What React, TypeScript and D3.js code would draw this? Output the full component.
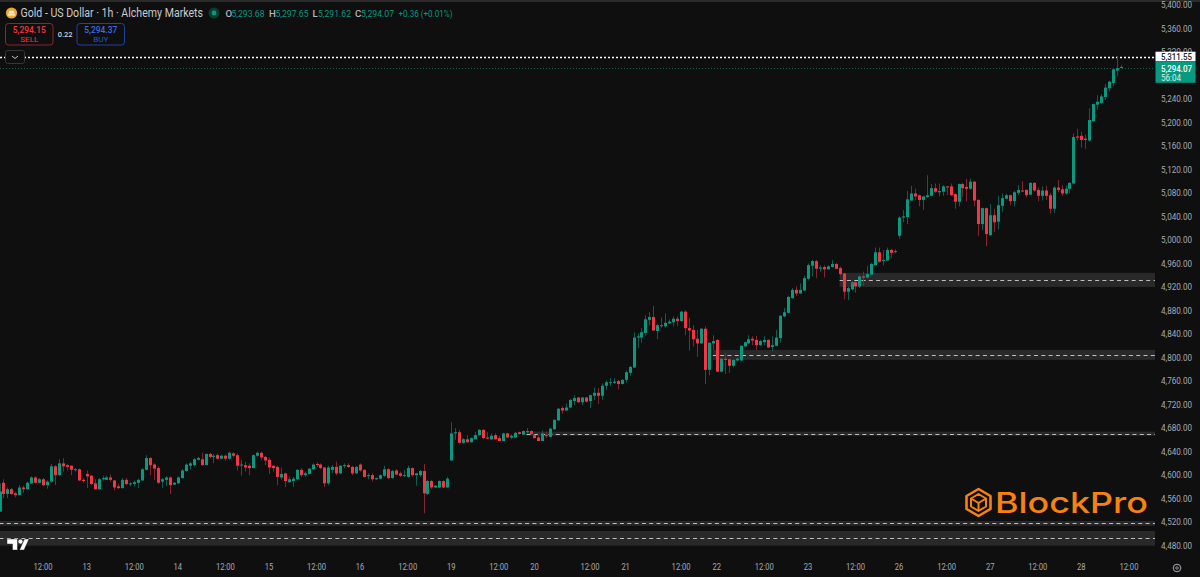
import React from "react";
import * as d3 from "d3";

const opens = [
4538,4587,4568,4576,4569,4566,4579,4576,4586,4596,4587,4593,4583,4589,4615,4600,4620,4617,4616,4609,
4610,4592,4602,4599,4586,4576,4593,4592,4596,4591,4581,4578,4592,4585,4585,4587,4591,4609,4629,4618,
4612,4589,4592,4596,4584,4586,4595,4607,4616,4617,4626,4627,4617,4636,4631,4634,4628,4633,4628,4637,4634,
4617,4617,4616,4612,4633,4638,4631,4626,4616,4614,4596,4603,4588,4590,4593,4609,4600,4602,4610,4619,
4618,4613,4586,4609,4614,4603,4616,4617,4614,4603,4618,4609,4599,4600,4593,4594,4599,4610,4595,4608,
4603,4599,4597,4612,4600,4600,4607,4568,4590,4579,4579,4590,4579,
4625,4671,4673,4655,4661,4656,4661,4668,4677,4664,4661,4668,4663,4658,4671,4664,4664,4673,4669,4673,
4675,4668,4664,4658,4668,4665,4678,4693,4714,4710,4715,4726,4732,4724,4732,4726,4735,4740,4735,4752,
4757,4757,4760,4755,4762,4774,4783,4834,4834,4842,4864,4869,4845,4855,4853,4858,4860,4866,
4862,4878,4850,4847,4832,4824,4849,4779,4824,4830,4776,4798,4797,4786,4795,4795,4819,4824,4832,4830,
4821,4826,4830,4818,4820,4833,4870,4876,
4901,4915,4909,4914,4934,4956,4964,4951,4954,4950,4954,4959,4952,4943,4912,4916,4928,4921,4938,4936,
4941,4957,4979,4965,4965,4983,4980,5007,5038,5039,5067,5079,5076,5068,5073,5075,5088,5081,5082,5091,
5091,5078,5065,5095,5090,5087,5099,5068,5027,5054,
5008,5042,5031,5058,5070,5076,5066,5080,5084,5085,5077,5097,5085,5075,5084,5076,5053,5089,5086,5079,
5087,5096,5176,5177,5172,5169,5202,5230,5233,5243,5258,5267,5288,5293.68];

const highs = [
4586,4593,4579,4578,4571,4583,4582,4589,4598,4598,4595,4595,4591,4619,4617,4627,4629,4619,4617,4612,
4611,4595,4608,4600,4593,4595,4599,4599,4601,4592,4585,4595,4595,4588,4591,4594,4612,4634,4631,4620,
4615,4595,4598,4598,4588,4598,4610,4620,4623,4629,4631,4638,4637,4638,4636,4637,4635,4635,4640,4639,4637,
4626,4623,4620,4635,4640,4640,4633,4630,4617,4616,4613,4604,4597,4597,4610,4612,4606,4612,4620,4622,
4620,4614,4616,4617,4623,4617,4620,4620,4616,4616,4620,4610,4603,4603,4596,4601,4616,4612,4609,4610,
4606,4609,4616,4613,4604,4609,4619,4592,4592,4583,4591,4591,4597,
4690,4680,4677,4663,4668,4664,4673,4678,4678,4673,4671,4671,4667,4672,4672,4669,4673,4674,4676,4680,
4676,4669,4668,4676,4674,4680,4695,4714,4717,4722,4729,4736,4733,4733,4733,4737,4749,4748,4756,4761,
4765,4765,4762,4763,4778,4786,4843,4841,4850,4872,4877,4888,4857,4868,4875,4865,4870,4870,
4879,4880,4867,4855,4847,4850,4853,4826,4838,4831,4799,4808,4799,4797,4800,4821,4827,4838,4836,4837,
4830,4836,4831,4836,4847,4872,4884,4905,
4918,4921,4926,4939,4960,4966,4966,4957,4957,4957,4966,4961,4955,4944,4921,4930,4930,4940,4946,4956,
4961,4987,4987,4983,4987,4985,4984,5040,5051,5083,5092,5087,5077,5075,5110,5095,5096,5096,5093,5092,
5096,5079,5096,5097,5104,5104,5100,5069,5055,5055,
5061,5053,5075,5079,5078,5077,5083,5093,5100,5086,5098,5098,5089,5091,5092,5080,5091,5102,5093,5093,
5098,5181,5189,5184,5179,5224,5232,5246,5248,5265,5271,5292,5311.55,5297.65];

const lows = [
4538,4561,4561,4566,4562,4566,4570,4575,4585,4586,4586,4581,4577,4587,4583,4599,4606,4608,4600,4606,
4590,4587,4578,4583,4575,4575,4591,4592,4589,4574,4576,4577,4583,4581,4581,4578,4590,4608,4600,4592,
4585,4578,4581,4568,4583,4585,4594,4606,4609,4615,4625,4616,4617,4629,4620,4626,4627,4624,4626,4630,4608,
4599,4606,4600,4612,4631,4625,4617,4602,4606,4583,4592,4580,4586,4580,4592,4597,4597,4601,4609,4614,
4610,4580,4583,4603,4600,4602,4612,4612,4600,4602,4606,4596,4593,4589,4592,4593,4597,4593,4594,4600,
4597,4597,4596,4597,4582,4597,4535,4566,4576,4578,4578,4578,4578,
4624,4660,4654,4653,4655,4655,4661,4667,4661,4661,4660,4660,4658,4658,4663,4661,4663,4669,4668,4671,
4669,4662,4658,4658,4663,4664,4677,4693,4704,4709,4714,4719,4723,4719,4724,4714,4728,4721,4728,4745,
4752,4755,4746,4754,4757,4769,4782,4816,4825,4837,4855,4845,4831,4850,4851,4857,4853,4854,
4861,4838,4812,4819,4801,4823,4755,4770,4813,4775,4775,4772,4774,4783,4794,4794,4817,4823,4821,4813,
4820,4821,4816,4810,4819,4825,4868,4875,
4900,4905,4908,4913,4931,4938,4935,4946,4936,4949,4953,4950,4939,4899,4898,4914,4910,4918,4922,4935,
4940,4956,4961,4957,4964,4969,4977,5002,5030,5027,5066,5068,5057,5051,5071,5074,5080,5074,5075,5076,
5075,5053,5057,5073,5065,5085,5057,5007,5017,4989,
5007,5013,5018,5048,5069,5059,5057,5076,5081,5072,5076,5082,5066,5067,5068,5045,5046,5081,5075,5077,
5079,5095,5169,5157,5155,5167,5201,5221,5231,5238,5252,5261,5279,5291.62];

const closes = [
4572,4568,4576,4568,4566,4579,4576,4587,4596,4587,4593,4583,4589,4615,4600,4620,4615,4614,4609,4610,
4591,4590,4598,4585,4576,4593,4595,4596,4592,4579,4578,4592,4585,4586,4588,4592,4610,4629,4617,4611,
4587,4593,4596,4583,4587,4596,4608,4618,4620,4627,4629,4617,4636,4631,4633,4628,4633,4628,4638,4633,4616,
4618,4613,4612,4634,4638,4630,4625,4613,4612,4597,4602,4590,4593,4594,4609,4600,4603,4611,4618,4617,
4612,4586,4613,4614,4603,4616,4617,4614,4603,4614,4608,4597,4600,4593,4595,4600,4610,4595,4607,4601,
4599,4600,4612,4600,4603,4607,4569,4590,4579,4582,4590,4579,4594,
4671,4673,4655,4661,4656,4663,4668,4677,4663,4662,4667,4661,4658,4671,4664,4667,4672,4670,4675,4675,
4670,4663,4658,4671,4667,4679,4694,4713,4710,4715,4728,4731,4724,4732,4725,4736,4740,4735,4752,4758,
4758,4759,4755,4762,4775,4784,4834,4836,4843,4865,4869,4846,4855,4854,4859,4861,4866,4862,
4878,4850,4846,4831,4824,4849,4779,4825,4828,4776,4798,4796,4786,4796,4798,4820,4826,4831,4829,4821,
4828,4830,4817,4821,4834,4871,4877,4903,
4915,4909,4915,4935,4957,4964,4951,4953,4950,4955,4959,4951,4942,4912,4918,4928,4921,4938,4936,4942,
4959,4979,4963,4966,4983,4978,4981,5038,5040,5069,5079,5074,5068,5074,5076,5088,5082,5083,5091,5090,
5076,5065,5095,5088,5087,5099,5067,5027,5054,5010,
5042,5030,5059,5071,5076,5066,5081,5085,5083,5076,5097,5084,5075,5084,5075,5053,5089,5085,5079,5087,
5097,5175,5174,5170,5170,5204,5231,5235,5244,5259,5269,5290,5292,5294.07];

const priceTicks = [5400,5360,5320,5240,5200,5160,5120,5080,5040,5000,4960,4920,4880,4840,4800,4760,4720,4680,4640,4600,4560,4520,4480];
const timeLabels = ["12:00","13","12:00","14","12:00","15","12:00","16","12:00","19","12:00","20","12:00","21","12:00","22","12:00","23","12:00","26","12:00","27","12:00","28","12:00"];
const timeTickIndex = [11,22,34,45,57,68,80,91,103,114,126,135,149,158,172,181,193,204,216,227,239,250,262,273,285];

const zoneStartIndex = [0,0,133,180,212];
const zoneTop = [4505,4522,4674,4813,4944];
const zoneBottom = [4480,4514,4667,4796,4920];
const zoneLine = [4493,4518,4670,4805,4932];

const lastPrice = 5294.07;
const titleText = "Gold - US Dollar · 1h · Alchemy Markets";
const ohlcLetters = ["O", "H", "L", "C"];
const ohlcValues = ["5,293.68", "5,297.65", "5,291.62", "5,294.07"];

const BG = "#0f0f0f";
const UP = "#089981";
const DOWN = "#f23645";
const UP_WICK = "#0b5e50";
const DOWN_WICK = "#86232f";
const FONT = "Roboto, 'Noto Sans', sans-serif";
const AXIS = "#a8abb3";
const ORANGE = "#f7820f";

const W = 1200;
const H = 577;
const PLOT_R = 1155;

export default function App() {
  const x = d3.scaleLinear().domain([0, 283]).range([-0.5, 1121]);
  const y = d3.scaleLinear().domain([4480, 5400]).range([545.7, 4.7]);
  const candles = d3.range(opens.length);
  const bw = 3;
  const fmtPrice = d3.format(",.2f");
  return (
    <svg width={W} height={H} viewBox={`0 0 ${W} ${H}`} style={{ position: "fixed", left: 0, top: 0, background: BG, display: "block" }} fontFamily={FONT}>
      <rect width={W} height={H} fill={BG} />
      <rect width={W} height={2} fill="#2a2a2a" />

      {zoneTop.map((t, i) => (
        <rect key={i} x={x(zoneStartIndex[i])} y={y(t)} width={PLOT_R - x(zoneStartIndex[i])} height={y(zoneBottom[i]) - y(t)} fill="#292929" />
      ))}
      {zoneLine.map((p, i) => (
        <line key={i} x1={x(zoneStartIndex[i])} x2={PLOT_R} y1={Math.round(y(p)) + 0.5} y2={Math.round(y(p)) + 0.5} stroke="#bdbdbd" strokeWidth={1.2} strokeDasharray="4 3.3" />
      ))}

      <line x1={0} x2={PLOT_R} y1={57.5} y2={57.5} stroke="#ffffff" strokeWidth={1.5} strokeDasharray="2 2" />
      <line x1={0} x2={PLOT_R} y1={Math.round(y(lastPrice)) + 1.5} y2={Math.round(y(lastPrice)) + 1.5} stroke={UP} strokeOpacity={0.6} strokeWidth={1} strokeDasharray="1 2" />

      {candles.map(i => {
        const up = closes[i] >= opens[i];
        const top = y(Math.max(opens[i], closes[i]));
        const bot = y(Math.min(opens[i], closes[i]));
        const cx = Math.round(x(i));
        return (
          <g key={i}>
            <line x1={cx + 0.5} x2={cx + 0.5} y1={y(highs[i])} y2={y(lows[i])} stroke={up ? UP_WICK : DOWN_WICK} strokeWidth={1} />
            <rect x={cx - 1} y={top} width={bw} height={Math.max(1, bot - top)} fill={up ? UP : DOWN} />
          </g>
        );
      })}

      {/* header */}
      <circle cx={11.5} cy={13} r={5.6} fill="#efa82e" />
      <path d="M8.2 13.4 L9.8 10.8 H13.2 L14.8 13.4 Z M7.8 14.2 H15.2 V15.4 H7.8 Z" fill="#fff3d6" />
      <text x={20.5} y={17.4} fontSize={12} fill="#c8cad0" textLength={182.5} lengthAdjust="spacingAndGlyphs">{titleText}</text>
      <circle cx={214} cy={13} r={5.5} fill="#0c3d35" />
      <circle cx={214} cy={13} r={2.4} fill={UP} />
      {ohlcLetters.map((k, i) => (
        <g key={k} fontSize={9.6}>
          <text x={[225.5, 269, 312.5, 355][i]} y={16.5} fill="#b4b6bc" fontWeight={500}>{k}</text>
          <text x={[231.5, 275.5, 318, 361][i]} y={16.5} fill={UP} textLength={33} lengthAdjust="spacingAndGlyphs">{ohlcValues[i]}</text>
        </g>
      ))}
      <text x={398.5} y={16.5} fontSize={9.6} fill={UP} textLength={54} lengthAdjust="spacingAndGlyphs">+0.36 (+0.01%)</text>

      <rect x={5.5} y={23.5} width={47.5} height={21.5} rx={3} fill={BG} stroke="#8c2530" />
      <text x={29.3} y={32.8} fontSize={9.5} fontWeight={500} fill={DOWN} textAnchor="middle" textLength={33} lengthAdjust="spacingAndGlyphs">5,294.15</text>
      <text x={29.3} y={42} fontSize={8} fill={DOWN} textAnchor="middle">SELL</text>
      <text x={65.2} y={36.5} fontSize={7.5} fontWeight={500} fill="#d1d4dc" textAnchor="middle">0.22</text>
      <rect x={77} y={23.5} width={47.5} height={21.5} rx={3} fill={BG} stroke="#23409c" />
      <text x={100.8} y={32.8} fontSize={9.5} fontWeight={500} fill="#3b6cf0" textAnchor="middle" textLength={33} lengthAdjust="spacingAndGlyphs">5,294.37</text>
      <text x={100.8} y={42} fontSize={8} fill="#2c55c8" textAnchor="middle">BUY</text>
      <rect x={5.5} y={50.5} width={19} height={13} rx={2} fill={BG} stroke="#363636" />
      <path d="M12 56 L15 58.5 L18 56" fill="none" stroke="#c8c8c8" strokeWidth={1} />

      {/* price axis */}
      {priceTicks.map(p => (
        <text key={p} x={1192} y={y(p) + 3.3} fontSize={9.4} fill={AXIS} textAnchor="end" textLength={31} lengthAdjust="spacingAndGlyphs">{fmtPrice(p)}</text>
      ))}
      <rect x={1155.5} y={51.7} width={40} height={9.5} fill="#ffffff" />
      <text x={1161} y={59.8} fontSize={9.2} fontWeight={500} fill="#222" textLength={31} lengthAdjust="spacingAndGlyphs">5,311.55</text>
      <rect x={1155.5} y={61.2} width={40} height={21.6} fill={UP} />
      <text x={1161} y={71.5} fontSize={9.4} fontWeight={500} fill="#ffffff" textLength={31} lengthAdjust="spacingAndGlyphs">5,294.07</text>
      <text x={1161} y={80.5} fontSize={9} fill="#d8efe9" textLength={20} lengthAdjust="spacingAndGlyphs">56:04</text>

      {/* time axis */}
      {timeLabels.map((t, i) => (
        <text key={i} x={x(timeTickIndex[i])} y={570} fontSize={9.4} fill={AXIS} textAnchor="middle" textLength={t.length > 2 ? 19 : 8.5} lengthAdjust="spacingAndGlyphs">{t}</text>
      ))}
      <circle cx={1177} cy={568} r={3.8} fill="none" stroke={AXIS} strokeWidth={1} />
      <circle cx={1177} cy={568} r={1.3} fill="none" stroke={AXIS} strokeWidth={0.8} />

      {/* TV logo */}
      <g fill="#ffffff" stroke="#111" strokeWidth={0.4}>
        <path d="M7 539 H17.5 V550 H12.5 V544 H7 Z" />
        <circle cx={20.5} cy={541.6} r={2.4} />
        <path d="M24.5 539 H29 L24 550 H19.5 Z" />
      </g>

      {/* BlockPro watermark */}
      <g fill="none" stroke={ORANGE} strokeWidth={2.6} strokeLinejoin="round">
        <path d="M978.5 489 L990.5 496 V509 L978.5 516 L966.5 509 V496 Z" />
        <path d="M978.5 494 L986 498.5 V506.5 L978.5 511 L971 506.5 V498.5 Z" strokeWidth={2} />
        <path d="M971 498.5 L978.5 503 L986 498.5 M978.5 503 V511" strokeWidth={2} />
      </g>
      <text x={995} y={513} fontSize={29} fontWeight={500} fontFamily="Inter, Roboto, sans-serif" fill={ORANGE} textLength={153} lengthAdjust="spacingAndGlyphs">BlockPro</text>
    </svg>
  );
}
